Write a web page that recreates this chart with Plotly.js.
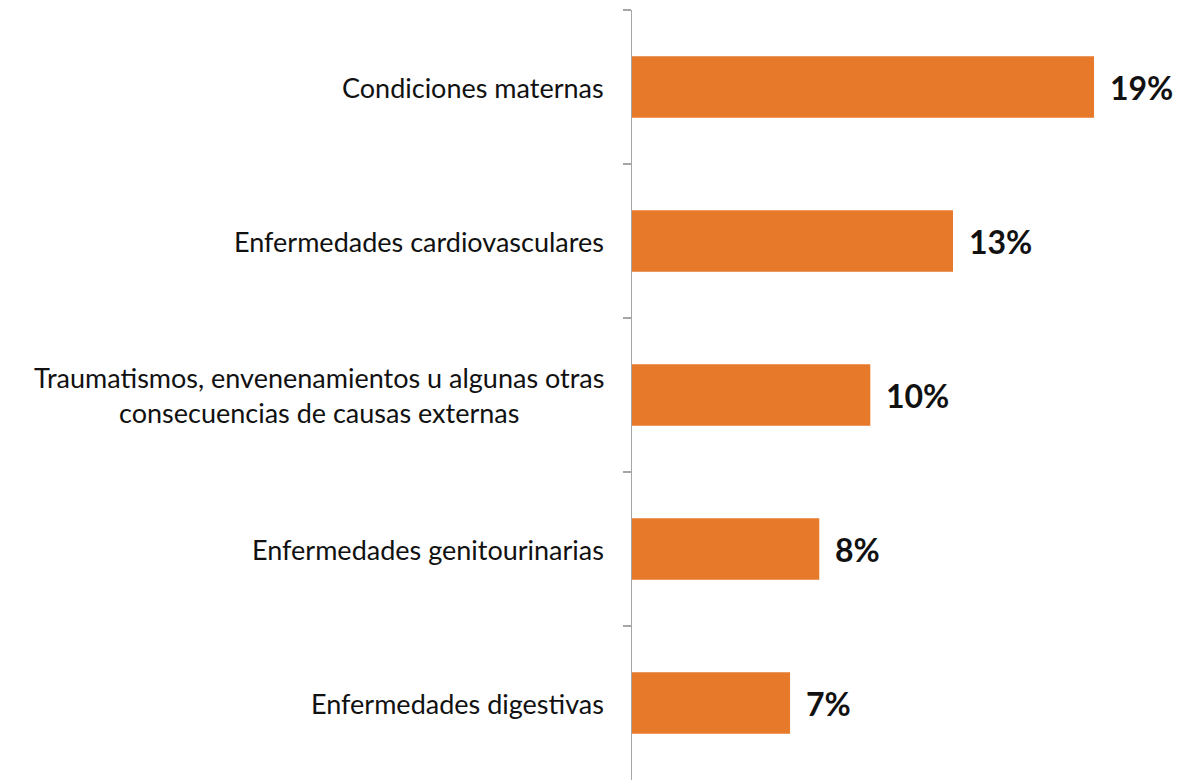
<!DOCTYPE html>
<html>
<head>
<meta charset="utf-8">
<script src="https://cdn.plot.ly/plotly-3.0.1.min.js"></script>
<style>html,body{margin:0;padding:0;background:#fff;}#chart{width:1189px;height:780px;}</style>
</head>
<body>
<div id="chart"></div>
<script>
const categories = [
  "Condiciones maternas",
  "Enfermedades cardiovasculares",
  "Traumatismos, envenenamientos u algunas otras<br>consecuencias de causas externas",
  "Enfermedades genitourinarias",
  "Enfermedades digestivas"
];
const values = [19.0, 13.2, 9.8, 7.7, 6.5];
const valueLabels = ["19%", "13%", "10%", "8%", "7%"];

const trace = {
  type: "bar",
  orientation: "h",
  x: values,
  y: categories,
  marker: {color: "#E7792B"},
  hoverinfo: "skip"
};

const annotations = [];
categories.forEach((c, i) => {
  annotations.push({
    xref: "paper", yref: "y", x: 0, y: c,
    xanchor: "right", yanchor: "middle", xshift: -26,
    text: c, showarrow: false, align: "center",
    font: {family: "Lato, 'Open Sans', sans-serif", size: 27, color: "#111"}
  });
  annotations.push({
    xref: "x", yref: "y", x: values[i], y: c,
    xanchor: "left", yanchor: "middle", xshift: 14,
    text: "<b>" + valueLabels[i] + "</b>", showarrow: false,
    font: {family: "Lato, 'Open Sans', sans-serif", size: 32, color: "#111"}
  });
});

const layout = {
  width: 1189, height: 780,
  margin: {l: 632, r: 22, t: 10, b: 0},
  paper_bgcolor: "#fff", plot_bgcolor: "#fff",
  showlegend: false,
  bargap: 0.6,
  xaxis: {range: [0, 22], visible: false, fixedrange: true},
  yaxis: {
    type: "category", autorange: "reversed",
    showticklabels: false,
    ticks: "outside", tickson: "boundaries", ticklen: 8,
    tickcolor: "#a6a6a6", tickwidth: 1.5,
    showline: true, linecolor: "#a6a6a6", linewidth: 1.5,
    showgrid: false, zeroline: false
  },
  annotations: annotations
};

Plotly.newPlot("chart", [trace], layout, {displayModeBar: false, staticPlot: true});
</script>
</body>
</html>
